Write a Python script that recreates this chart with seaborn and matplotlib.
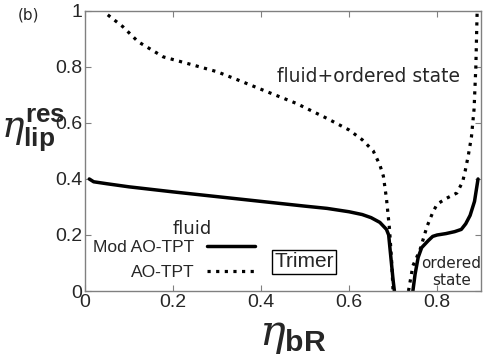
import pandas as pd
import seaborn as sns
import matplotlib.pyplot as plt

sns.set_style("ticks")
plt.rcParams.update({
    "font.family": ["Liberation Sans", "DejaVu Sans"],
    "mathtext.fontset": "custom",
    "mathtext.it": "DejaVu Serif:italic",
    "mathtext.bf": "Liberation Sans:bold",
    "mathtext.rm": "Liberation Sans",
    "xtick.direction": "in",
    "ytick.direction": "in",
})

# Mod AO-TPT (solid), fluid side
mod_left_x = [0.01, 0.02, 0.05, 0.10, 0.20, 0.30, 0.40, 0.50, 0.55, 0.60, 0.63, 0.65,
              0.67, 0.685, 0.69, 0.695, 0.70, 0.703]
mod_left_y = [0.40, 0.39, 0.383, 0.372, 0.354, 0.337, 0.32, 0.303, 0.295, 0.283, 0.273, 0.262,
              0.245, 0.22, 0.20, 0.12, 0.04, 0.0]
# Mod AO-TPT (solid), ordered side
mod_right_x = [0.745, 0.75, 0.757, 0.765, 0.78, 0.79, 0.80, 0.82, 0.84, 0.855, 0.865,
               0.875, 0.885, 0.893]
mod_right_y = [0.0, 0.06, 0.12, 0.155, 0.18, 0.195, 0.20, 0.205, 0.212, 0.22, 0.24,
               0.27, 0.32, 0.40]
# AO-TPT (dotted)
ao_left_x = [0.052, 0.086, 0.121, 0.178, 0.25, 0.30, 0.35, 0.413, 0.48, 0.549, 0.60, 0.63,
             0.655, 0.67, 0.678, 0.685, 0.692, 0.697, 0.70]
ao_left_y = [0.986, 0.944, 0.89, 0.836, 0.805, 0.783, 0.752, 0.712, 0.67, 0.617, 0.575, 0.54,
             0.50, 0.45, 0.41, 0.33, 0.22, 0.10, 0.0]
ao_right_x = [0.735, 0.745, 0.761, 0.777, 0.79, 0.80, 0.82, 0.845, 0.858, 0.864, 0.871,
              0.878, 0.884, 0.888, 0.891]
ao_right_y = [0.0, 0.09, 0.146, 0.23, 0.28, 0.31, 0.33, 0.35, 0.39, 0.43, 0.485,
              0.55, 0.65, 0.80, 1.0]

xticks = [0, 0.2, 0.4, 0.6, 0.8]
xtick_labels = ["0", "0.2", "0.4", "0.6", "0.8"]
yticks = [0, 0.2, 0.4, 0.6, 0.8, 1.0]
ytick_labels = ["0", "0.2", "0.4", "0.6", "0.8", "1"]

fig = plt.figure(figsize=(4.85, 3.64), dpi=100)
ax = fig.add_axes([0.175, 0.2005, 0.817, 0.7695])

dotted = (0, (1, 1.7))
sns.lineplot(x=mod_left_x, y=mod_left_y, sort=False, estimator=None, color="black",
             lw=2.5, ax=ax, label="Mod AO-TPT")
sns.lineplot(x=mod_right_x, y=mod_right_y, sort=False, estimator=None, color="black",
             lw=2.5, ax=ax)
sns.lineplot(x=ao_left_x, y=ao_left_y, sort=False, estimator=None, color="black",
             lw=2.3, linestyle=dotted, ax=ax, label="AO-TPT")
sns.lineplot(x=ao_right_x, y=ao_right_y, sort=False, estimator=None, color="black",
             lw=2.3, linestyle=dotted, ax=ax)

ax.set_xlim(0, 0.9)
ax.set_ylim(0, 1)
ax.set_xticks(xticks, xtick_labels, fontsize=14)
ax.set_yticks(yticks, ytick_labels, fontsize=14)
ax.tick_params(top=True, right=True, length=4, width=0.8, color="0.5", pad=2)
for s in ax.spines.values():
    s.set_color("0.5")
    s.set_linewidth(1.0)

ax.set_xlabel(r"$\eta_{\mathbf{bR}}$", fontsize=31)
ax.xaxis.set_label_coords(0.525, -0.09)
ax.set_ylabel(r"$\eta^{\mathbf{res}}_{\mathbf{lip}}$", fontsize=27, rotation=0,
              ha="center", va="center")
ax.yaxis.set_label_coords(-0.131, 0.575)

ax.legend(loc="lower left", bbox_to_anchor=(-0.018, -0.015), frameon=False,
          markerfirst=False, fontsize=12.5, handlelength=2.75, handletextpad=0.7,
          labelspacing=0.55)

ax.text(0.245, 0.22, "fluid", family="DejaVu Sans", fontsize=13, ha="center", va="center")
ax.text(0.644, 0.765, "fluid+ordered state", family="DejaVu Sans", fontsize=13.5,
        ha="center", va="center")
ax.text(0.832, 0.068, "ordered\nstate", family="DejaVu Sans", fontsize=11,
        ha="center", va="center")
ax.text(0.498, 0.104, "Trimer", fontsize=15, ha="center", va="center",
        bbox=dict(boxstyle="square,pad=0.12", fc="white", ec="black", lw=1))
fig.text(0.037, 0.959, "(b)", family="DejaVu Sans", fontsize=11, va="center")

fig.savefig("out.png", dpi=100)
